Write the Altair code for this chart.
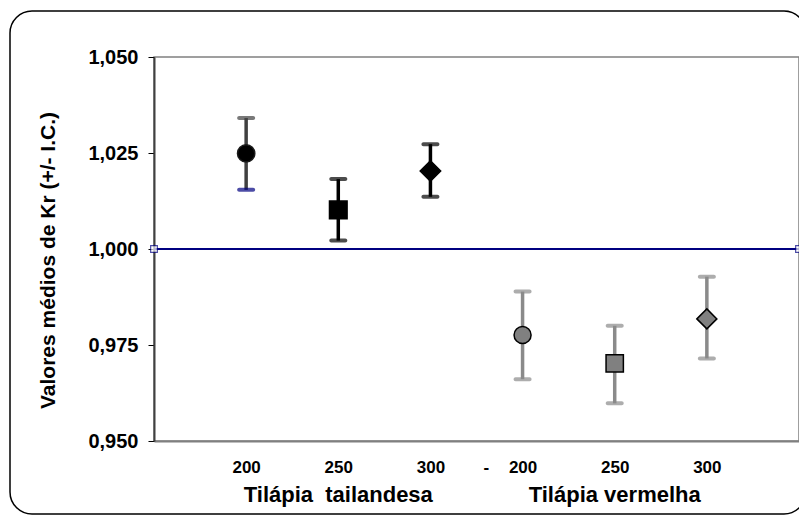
import altair as alt
import pandas as pd

# ---- data ----
groups = ["Tilápia tailandesa", "Tilápia tailandesa", "Tilápia tailandesa",
          "Tilápia vermelha", "Tilápia vermelha", "Tilápia vermelha"]
densities = ["200", "250", "300", "200", "250", "300"]
order = [1, 2, 3, 4, 5, 6]
means = [1.0249, 1.0102, 1.0203, 0.9776, 0.9702, 0.9818]
upper = [1.0341, 1.0182, 1.0273, 0.9889, 0.9800, 0.9928]
lower = [1.0154, 1.0022, 1.0136, 0.9661, 0.9598, 0.9715]
ref_x = [0, 7]
ref_y = [1.0, 1.0]
tick_labels = ["200", "250", "300", "-", "200", "250", "300"]
y_ticks = [0.950, 0.975, 1.000, 1.025, 1.050]

# ---- styles ----
shapes = ["circle", "square", "diamond", "circle", "square", "diamond"]
sizes = [300, 310, 420, 290, 300, 400]
fills = ["#000000", "#000000", "#000000", "#808080", "#808080", "#808080"]
strokes = ["#1a1a1a", "#000000", "#000000", "#000000", "#000000", "#000000"]
bar_colors = ["#404040", "#000000", "#000000", "#8a8a8a", "#8a8a8a", "#8a8a8a"]
low_cap_colors = ["#000080", "#000000", "#000000", "#8a8a8a", "#8a8a8a", "#8a8a8a"]
tick_pos = [1, 2, 3, 3.6, 4, 5, 6]

df = pd.DataFrame({
    "group": groups, "dens": densities, "x": order, "mean": means,
    "upper": upper, "lower": lower, "shape": shapes, "size": sizes,
    "fill": fills, "stroke": strokes, "bar": bar_colors, "lowcap": low_cap_colors,
})
df_ref = pd.DataFrame({"x": ref_x, "y": ref_y})
grp_names = ["Tilápia\u00a0 tailandesa", "Tilápia vermelha"]
df_grp = pd.DataFrame({
    "label": grp_names,
    "x": [sum(order[:3]) / 3, sum(order[3:]) / 3],
})

FONT = "Liberation Sans"
TITLE = "Valores médios de Kr (+/- I.C.)"

label_expr = " : ".join(
    f"datum.value == {p} ? '{t}'" for p, t in zip(tick_pos, tick_labels)
) + " : ''"

xscale = alt.Scale(domain=[0, 7], nice=False, zero=False)
yscale = alt.Scale(domain=[0.95, 1.05], nice=False, zero=False)

xaxis = alt.Axis(
    values=tick_pos, labelExpr=label_expr, ticks=False, tickSize=0, grid=False,
    domainColor="#808080", domainWidth=2, labelFontSize=17, labelFont=FONT,
    labelFontWeight="bold", labelColor="#000000", labelPadding=26,
    labelBaseline="middle", labelAngle=0, title=None,
)
yaxis = alt.Axis(
    values=y_ticks, labelExpr="replace(format(datum.value, '.3f'), '.', ',')",
    tickSize=6, tickColor="#000000", tickWidth=1, grid=False,
    domainColor="#404040", domainWidth=2, labelFontSize=20, labelFont=FONT,
    labelFontWeight="bold", labelColor="#000000", labelPadding=10,
    title=TITLE, titleFont=FONT, titleFontSize=21, titleFontWeight="bold",
    titleColor="#000000", titleX=-106, titleY=203, titleAngle=270,
    titleAlign="center", titleBaseline="middle",
)


def X(field="x"):
    return alt.X(f"{field}:Q", scale=xscale, axis=xaxis)


def Y(field):
    return alt.Y(f"{field}:Q", scale=yscale, axis=yaxis, title=TITLE)


frame = alt.Chart(pd.DataFrame({"a": [0]})).mark_rect(
    cornerRadius=22, fillOpacity=0, stroke="#000000", strokeWidth=1.5
).encode(x=alt.value(-144), x2=alt.value(652), y=alt.value(-46), y2=alt.value(457))

ref_line = alt.Chart(df_ref).mark_line(color="#000080", strokeWidth=2).encode(
    x=X(), y=Y("y")
)
ref_pts = alt.Chart(df_ref).mark_point(
    shape="square", size=45, filled=True, fill="#ffffff", stroke="#000080", strokeWidth=1.2
).encode(x=X(), y=Y("y"))

bars = alt.Chart(df).mark_rule(strokeWidth=3.5).encode(
    x=X(), y=Y("lower"), y2=alt.Y2("upper:Q"),
    color=alt.Color("bar:N", scale=None),
)
cap_up = alt.Chart(df).mark_tick(
    orient="horizontal", size=18, thickness=4, cornerRadius=2
).encode(x=X(), y=Y("upper"), color=alt.Color("bar:N", scale=None))
cap_lo = alt.Chart(df).mark_tick(
    orient="horizontal", size=18, thickness=4, cornerRadius=2
).encode(x=X(), y=Y("lower"), color=alt.Color("lowcap:N", scale=None))

points = alt.Chart(df).mark_point(filled=True, strokeWidth=1.5, opacity=1).encode(
    x=X(), y=Y("mean"),
    shape=alt.Shape("shape:N", scale=None),
    size=alt.Size("size:Q", scale=None),
    fill=alt.Fill("fill:N", scale=None),
    stroke=alt.Stroke("stroke:N", scale=None),
)

grp_text = alt.Chart(df_grp).mark_text(
    font=FONT, fontSize=22, fontWeight="bold", color="#000000",
    align="center", baseline="middle"
).encode(x=X(), y=alt.value(438), text="label:N")

chart = alt.layer(
    frame, ref_line, ref_pts, bars, cap_up, cap_lo, points, grp_text
).properties(
    width=645, height=384,
    autosize=alt.AutoSizeParams(type="none"),
    padding={"left": 146, "top": 49, "right": 0, "bottom": 75},
    background="#ffffff",
).configure_view(stroke="#808080", strokeWidth=1.5)

chart.save("out.html", embed_options={"renderer": "svg", "actions": False})
